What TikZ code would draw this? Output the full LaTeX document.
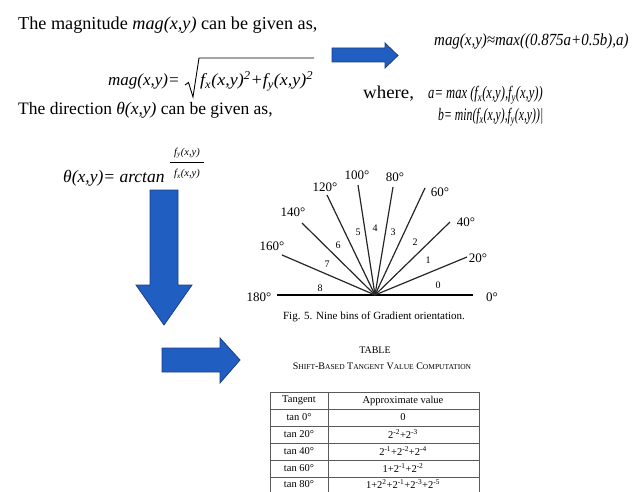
\documentclass[tikz,border=0pt]{standalone}
\usepackage{fontspec}
\setmainfont{Liberation Serif}
\definecolor{arrowblue}{RGB}{32,94,194}
\definecolor{arrowedge}{RGB}{28,62,130}
\definecolor{tblline}{RGB}{90,90,90}
\begin{document}
\begin{tikzpicture}[x=1pt,y=-1pt,
  txt/.style={anchor=base west, inner sep=0, font=\fontsize{17.5}{20}\selectfont},
  rtxt/.style={anchor=base west, inner sep=0, font=\fontsize{17.5}{20}\selectfont},
  blockarrow/.style={fill=arrowblue, draw=arrowedge, line width=0.8pt, line join=miter},
  ray/.style={line width=1.2pt, draw=black!85},
  deg/.style={inner sep=0, font=\fontsize{13}{15}\selectfont},
  bin/.style={inner sep=0, font=\fontsize{10}{12}\selectfont},
  cell/.style={inner sep=0, font=\fontsize{10.5}{12}\selectfont},
  tbl/.style={draw=tblline, line width=0.8pt}]
\useasboundingbox (0,0) rectangle (634,492);

% ---- left text ----
\node[txt, font=\fontsize{18.2}{20}\selectfont] (t1) at (18,30) {The magnitude \textit{mag(x,y)} can be given as,};
\node[txt, font=\fontsize{17}{20}\selectfont] (m1) at (108,86) {\itshape mag(x,y)=};
\draw[line width=0.9pt] (185,85) -- (188.5,82.5) -- (193,97) -- (199,58) -- (314,58);
\node[txt, font=\fontsize{17}{20}\selectfont] (m2) at (200,86) {\scalebox{1.06}[1]{\itshape f\textsubscript{x}(x,y)\textsuperscript{2}+f\textsubscript{y}(x,y)\textsuperscript{2}}};
\node[txt] (t3) at (18,114) {The direction \textit{θ(x,y)} can be given as,};
\node[txt, font=\fontsize{17.5}{20}\selectfont] (th) at (63,182) {\itshape θ(x,y)= arctan};
\node[inner sep=0, font=\fontsize{10.5}{12}\selectfont\itshape] (num) at (187,153) {f\textsubscript{y}(x,y)};
\node[inner sep=0, font=\fontsize{10.5}{12}\selectfont\itshape] (den) at (187,174) {f\textsubscript{x}(x,y)};
\draw[line width=0.8pt] (170,162) -- (204,162);

% ---- right formulas ----
\node[rtxt, font=\fontsize{17}{20}\selectfont] (r1) at (434,46) {\scalebox{0.88}[1]{\itshape mag(x,y)≈max((0.875a+0.5b),a)}};
\node[rtxt, font=\fontsize{18}{20}\selectfont] (r2w) at (363,99) {\scalebox{1.05}[1]{where,}};
\node[rtxt] (r2) at (428,99) {\scalebox{0.72}[1]{\itshape a= max (f\textsubscript{x}(x,y),f\textsubscript{y}(x,y))}};
\node[rtxt] (r3) at (438,121) {\scalebox{0.67}[1]{\itshape b= min(f\textsubscript{x}(x,y),f\textsubscript{y}(x,y))|}};

% ---- arrows ----
\path[blockarrow] (332,48) -- (385,48) -- (385,43) -- (398,55.5) -- (385,68) -- (385,62) -- (332,62) -- cycle;
\path[blockarrow] (150,190) -- (178,190) -- (178,285) -- (192,285) -- (164,325) -- (136,285) -- (150,285) -- cycle;
\path[blockarrow] (162,348) -- (220,348) -- (220,338) -- (240,360) -- (220,383) -- (220,372) -- (162,372) -- cycle;

% ---- orientation bins ----
\coordinate (O) at (375,295);
\draw[line width=1.8pt] (277,295) -- (473,295);
\draw[ray] (O) -- (467,257);
\draw[ray] (O) -- (450,222);
\draw[ray] (O) -- (425,188);
\draw[ray] (O) -- (393,187);
\draw[ray] (O) -- (358,185);
\draw[ray] (O) -- (327,195);
\draw[ray] (O) -- (302,223);
\draw[ray] (O) -- (282,255);
\node[deg] (d0) at (492,297) {0°};
\node[deg] (d20) at (478,258) {20°};
\node[deg] (d40) at (466,222) {40°};
\node[deg] (d60) at (440,192) {60°};
\node[deg] (d80) at (395,177) {80°};
\node[deg] (d100) at (357,175) {100°};
\node[deg] (d120) at (325,187) {120°};
\node[deg] (d140) at (293,212) {140°};
\node[deg] (d160) at (272,246) {160°};
\node[deg] (d180) at (259,297) {180°};
\node[bin] (b0) at (438,285) {0};
\node[bin] (b1) at (428,260) {1};
\node[bin] (b2) at (415,242) {2};
\node[bin] (b3) at (393,232) {3};
\node[bin] (b4) at (375,228) {4};
\node[bin] (b5) at (358,232) {5};
\node[bin] (b6) at (338,245) {6};
\node[bin] (b7) at (327,264) {7};
\node[bin] (b8) at (320,288) {8};
\node[inner sep=0, font=\fontsize{11}{12}\selectfont] (cap) at (374,317) {Fig. 5. Nine bins of Gradient orientation.};

% ---- table ----
\node[inner sep=0, font=\fontsize{10}{12}\selectfont] (tt) at (375,350) {TABLE};
\node[inner sep=0, font=\fontsize{10}{12}\selectfont] (ts) at (382,366) {S{\fontsize{7.5}{9}\selectfont HIFT}-B{\fontsize{7.5}{9}\selectfont ASED} T{\fontsize{7.5}{9}\selectfont ANGENT} V{\fontsize{7.5}{9}\selectfont ALUE} C{\fontsize{7.5}{9}\selectfont OMPUTATION}};
\draw[tbl] (270,492) -- (270,392) -- (479,392) -- (479,492);
\draw[tbl] (328,392) -- (328,492);
\foreach \yy in {409,426,443,460,477} \draw[tbl] (270,\yy) -- (479,\yy);
\node[cell] (h1) at (299,400.5) {Tangent};
\node[cell] (h2) at (403,400.5) {Approximate value};
\node[cell] (a1) at (299,417.5) {tan 0°};
\node[cell] (v1) at (403,417.5) {0};
\node[cell] (a2) at (299,434.5) {tan 20°};
\node[cell] (v2) at (403,434.5) {2\textsuperscript{-2}+2\textsuperscript{-3}};
\node[cell] (a3) at (299,451.5) {tan 40°};
\node[cell] (v3) at (403,451.5) {2\textsuperscript{-1}+2\textsuperscript{-2}+2\textsuperscript{-4}};
\node[cell] (a4) at (299,468.5) {tan 60°};
\node[cell] (v4) at (403,468.5) {1+2\textsuperscript{-1}+2\textsuperscript{-2}};
\node[cell] (a5) at (299,484.5) {tan 80°};
\node[cell] (v5) at (403,484.5) {1+2\textsuperscript{2}+2\textsuperscript{-1}+2\textsuperscript{-3}+2\textsuperscript{-5}};
\end{tikzpicture}
\end{document}
